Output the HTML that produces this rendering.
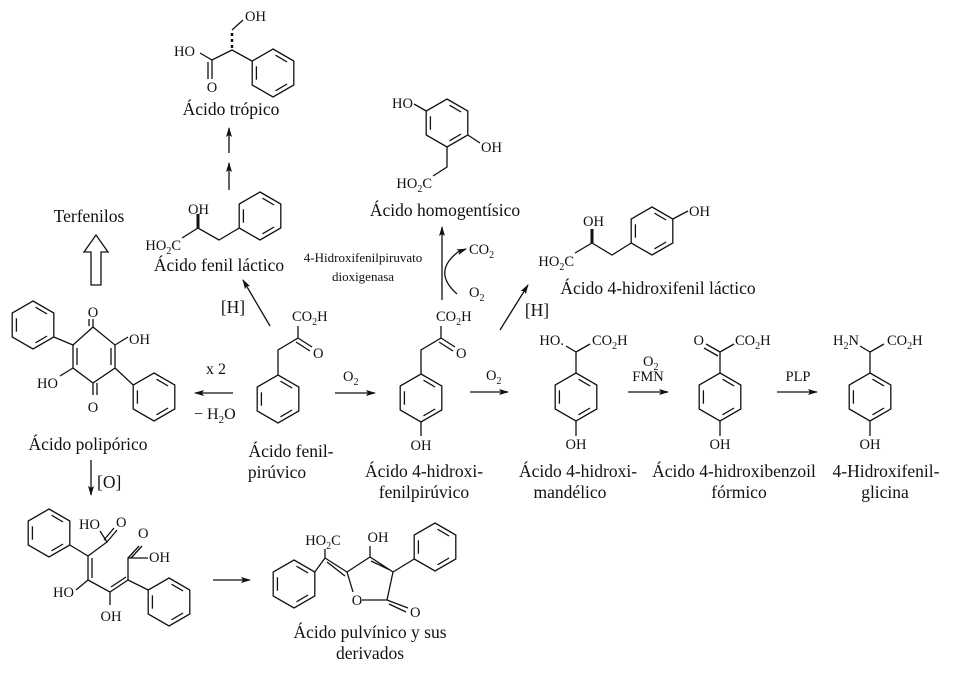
<!DOCTYPE html>
<html><head><meta charset="utf-8"><style>
html,body{margin:0;padding:0;background:#fff;}
svg{display:block;}
text{font-family:"Liberation Serif","Times New Roman",serif;fill:#111;}
.a{font-size:14.5px;}
.n{font-size:17.5px;}
.s{font-size:13px;}
</style></head><body>
<svg width="960" height="673" viewBox="0 0 960 673" xmlns="http://www.w3.org/2000/svg">
<defs>
<g id="bz" fill="none" stroke="#111" stroke-width="1.3">
<polygon points="0,-24 20.8,-12 20.8,12 0,24 -20.8,12 -20.8,-12"/>
<line x1="2.5" y1="-17.8" x2="14.1" y2="-11"/>
<line x1="14.1" y1="11" x2="2.5" y2="17.8"/>
<line x1="-16.6" y1="6.7" x2="-16.6" y2="-6.7"/>
</g>
<marker id="ar" markerWidth="10" markerHeight="8" refX="9" refY="4" orient="auto" markerUnits="userSpaceOnUse">
<path d="M0,1 L10,4 L0,7 L2,4 z" fill="#111"/>
</marker>
</defs>
<g stroke="#111" stroke-width="1.3" fill="none">
<use href="#bz" x="273" y="73"/>
<use href="#bz" x="260" y="216"/>
<use href="#bz" x="447" y="123"/>
<use href="#bz" x="652" y="231"/>
<use href="#bz" x="278" y="399"/>
<use href="#bz" x="421" y="398"/>
<use href="#bz" x="576" y="397"/>
<use href="#bz" x="720" y="397"/>
<use href="#bz" x="870" y="397"/>
<use href="#bz" x="33" y="325"/>
<use href="#bz" x="154" y="397"/>
<use href="#bz" x="49" y="533"/>
<use href="#bz" x="169" y="602"/>
<use href="#bz" x="294" y="584"/>
<use href="#bz" x="435" y="547"/>

<path d="M252,61 L232,50 L212,60 L200,53"/>
<path d="M212,60 V79 M208,62 V79"/>
<path d="M232,48 V30" stroke-width="2.5" stroke-dasharray="3,3"/>
<path d="M232,30 L243,20"/>
<path d="M239.2,228 L219,240 L198,228 L182,238"/>
<path d="M198,228 V214" stroke-width="3"/>
<path d="M426.2,111 L414,104 M467.8,135 L480,143 M447,147 V167 L433,176"/>
<path d="M672.8,219 L688,211 M631.2,243 L612,255 L592,243 L575,253"/>
<path d="M592,243 V229" stroke-width="3"/>
<path d="M278,375 V350 L298,338 V326 M298,338 L312,347 M296,342 L310,351"/>
<path d="M421,374 V350 L441,338 V326 M441,338 L455,347 M439,342 L453,351 M421,422 V436"/>
<path d="M576,373 V352 L590,344 M576,352 L566,346 M576,421 V436"/>
<path d="M720,373 V352 L734,344 M720,352 L706,344 M718,356 L704,348 M720,421 V436"/>
<path d="M870,373 V352 L884,344 M870,352 L860,346 M870,421 V436"/>
<polygon points="93,327 115,345 115,368 93,383 73,368 73,345"/>
<path d="M111,348 V365 M77,348 V365"/>
<path d="M93,327 V319 M89,326 V319 M93,383 V395 M97,383 V395"/>
<path d="M115,345 L128,337 M73,368 L60,376 M73,345 L53.8,337 M115,368 L133.2,385"/>
<path d="M69.8,545 L88,556 V580 M92,558 V578 M88,556 L107,542 L100,531 M107,542 L117,530 M104,540 L114,528"/>
<path d="M88,580 L76,590 M88,580 L110,592 V605 M110,592 L128,580 M111,587 L126,577 M128,580 V558 L139,546 M131,558 L142,546 M128,558 L148,558 M128,580 L148.2,590"/>
<path d="M314.8,572 L325,558 V549 M325,558 L347,572 M327,562 L345,576"/>
<path d="M347,572 L353,592 M362,600 L387,600 L393,572 L370,557 L347,572 M390,570 L371,561 M387,600 L408,608 M389,604 L406,612 M370,557 V546 M393,572 L414.2,559"/>
<path d="M229,190 V163" marker-end="url(#ar)"/>
<path d="M229,153 V128" marker-end="url(#ar)"/>
<path d="M270,326 L243,280" marker-end="url(#ar)"/>
<path d="M233,393 H195" marker-end="url(#ar)"/>
<path d="M335,393 H375" marker-end="url(#ar)"/>
<path d="M91,460 V495" marker-end="url(#ar)"/>
<path d="M213,580 H250" marker-end="url(#ar)"/>
<path d="M442,300 V227" marker-end="url(#ar)"/>
<path d="M457,294 Q432,272 458,252 L466,249" marker-end="url(#ar)"/>
<path d="M500,330 L528,285" marker-end="url(#ar)"/>
<path d="M470,392 H508" marker-end="url(#ar)"/>
<path d="M628,392 H668" marker-end="url(#ar)"/>
<path d="M777,392 H817" marker-end="url(#ar)"/>
<polygon points="91,285 101,285 101,252 108,252 96,235 84,252 91,252"/>
</g>

<g class="a">
<text x="174" y="56">HO</text>
<text x="212" y="92" text-anchor="middle">O</text>
<text x="245" y="21">OH</text>
<text x="188" y="214">OH</text>
<text x="181" y="250" text-anchor="end">HO<tspan dy="4" font-size="10">2</tspan><tspan dy="-4">C</tspan></text>
<text x="413" y="108" text-anchor="end">HO</text>
<text x="481" y="152">OH</text>
<text x="432" y="188" text-anchor="end">HO<tspan dy="4" font-size="10">2</tspan><tspan dy="-4">C</tspan></text>
<text x="689" y="216">OH</text>
<text x="583" y="226">OH</text>
<text x="574" y="266" text-anchor="end">HO<tspan dy="4" font-size="10">2</tspan><tspan dy="-4">C</tspan></text>
<text x="292" y="321">CO<tspan dy="4" font-size="10">2</tspan><tspan dy="-4">H</tspan></text>
<text x="313" y="358">O</text>
<text x="436" y="321">CO<tspan dy="4" font-size="10">2</tspan><tspan dy="-4">H</tspan></text>
<text x="456" y="358">O</text>
<text x="421" y="450" text-anchor="middle">OH</text>
<text x="564" y="345" text-anchor="end">HO.</text>
<text x="592" y="345">CO<tspan dy="4" font-size="10">2</tspan><tspan dy="-4">H</tspan></text>
<text x="576" y="449" text-anchor="middle">OH</text>
<text x="704" y="345" text-anchor="end">O</text>
<text x="735" y="345">CO<tspan dy="4" font-size="10">2</tspan><tspan dy="-4">H</tspan></text>
<text x="720" y="449" text-anchor="middle">OH</text>
<text x="859" y="345" text-anchor="end">H<tspan dy="4" font-size="10">2</tspan><tspan dy="-4">N</tspan></text>
<text x="887" y="345">CO<tspan dy="4" font-size="10">2</tspan><tspan dy="-4">H</tspan></text>
<text x="870" y="449" text-anchor="middle">OH</text>
<text x="93" y="317" text-anchor="middle">O</text>
<text x="93" y="412" text-anchor="middle">O</text>
<text x="129" y="344">OH</text>
<text x="58" y="388" text-anchor="end">HO</text>
<text x="79" y="529">HO</text>
<text x="116" y="527">O</text>
<text x="138" y="538">O</text>
<text x="149" y="562">OH</text>
<text x="74" y="597" text-anchor="end">HO</text>
<text x="111" y="621" text-anchor="middle">OH</text>
<text x="323" y="545" text-anchor="middle">HO<tspan dy="4" font-size="10">2</tspan><tspan dy="-4">C</tspan></text>
<text x="378" y="542" text-anchor="middle">OH</text>
<text x="357" y="605" text-anchor="middle">O</text>
<text x="410" y="617">O</text>
<text x="469" y="254">CO<tspan dy="4" font-size="10">2</tspan></text>
<text x="469" y="297">O<tspan dy="4" font-size="10">2</tspan></text>
<text x="343" y="381">O<tspan dy="4" font-size="10">2</tspan></text>
<text x="486" y="380">O<tspan dy="4" font-size="10">2</tspan></text>
<text x="643" y="366">O<tspan dy="4" font-size="10">2</tspan></text>
<text x="648" y="381" text-anchor="middle">FMN</text>
<text x="798" y="381" text-anchor="middle">PLP</text>
<text x="206" y="374" font-size="16">x 2</text>
<text x="194" y="419" font-size="16">− H<tspan dy="4" font-size="11">2</tspan><tspan dy="-4">O</tspan></text>
</g>
<g class="n">
<text x="231" y="115" text-anchor="middle">Ácido trópico</text>
<text x="89" y="222" text-anchor="middle">Terfenilos</text>
<text x="219" y="271" text-anchor="middle">Ácido fenil láctico</text>
<text x="445" y="216" text-anchor="middle">Ácido homogentísico</text>
<text x="658" y="294" text-anchor="middle">Ácido 4-hidroxifenil láctico</text>
<text x="233" y="313" text-anchor="middle">[H]</text>
<text x="537" y="316" text-anchor="middle">[H]</text>
<text x="88" y="450" text-anchor="middle">Ácido polipórico</text>
<text x="97" y="488">[O]</text>
<text x="291" y="457" text-anchor="middle">Ácido fenil-</text>
<text x="277" y="478" text-anchor="middle">pirúvico</text>
<text x="424" y="477" text-anchor="middle">Ácido 4-hidroxi-</text>
<text x="424" y="498" text-anchor="middle">fenilpirúvico</text>
<text x="578" y="477" text-anchor="middle">Ácido 4-hidroxi-</text>
<text x="570" y="498" text-anchor="middle">mandélico</text>
<text x="734" y="477" text-anchor="middle">Ácido 4-hidroxibenzoil</text>
<text x="739" y="498" text-anchor="middle">fórmico</text>
<text x="886" y="477" text-anchor="middle">4-Hidroxifenil-</text>
<text x="885" y="498" text-anchor="middle">glicina</text>
<text x="370" y="638" text-anchor="middle">Ácido pulvínico y sus</text>
<text x="370" y="659" text-anchor="middle">derivados</text>
</g>
<g class="s">
<text x="363" y="262" text-anchor="middle">4-Hidroxifenilpiruvato</text>
<text x="363" y="281" text-anchor="middle">dioxigenasa</text>
</g>
</svg>
</body></html>
